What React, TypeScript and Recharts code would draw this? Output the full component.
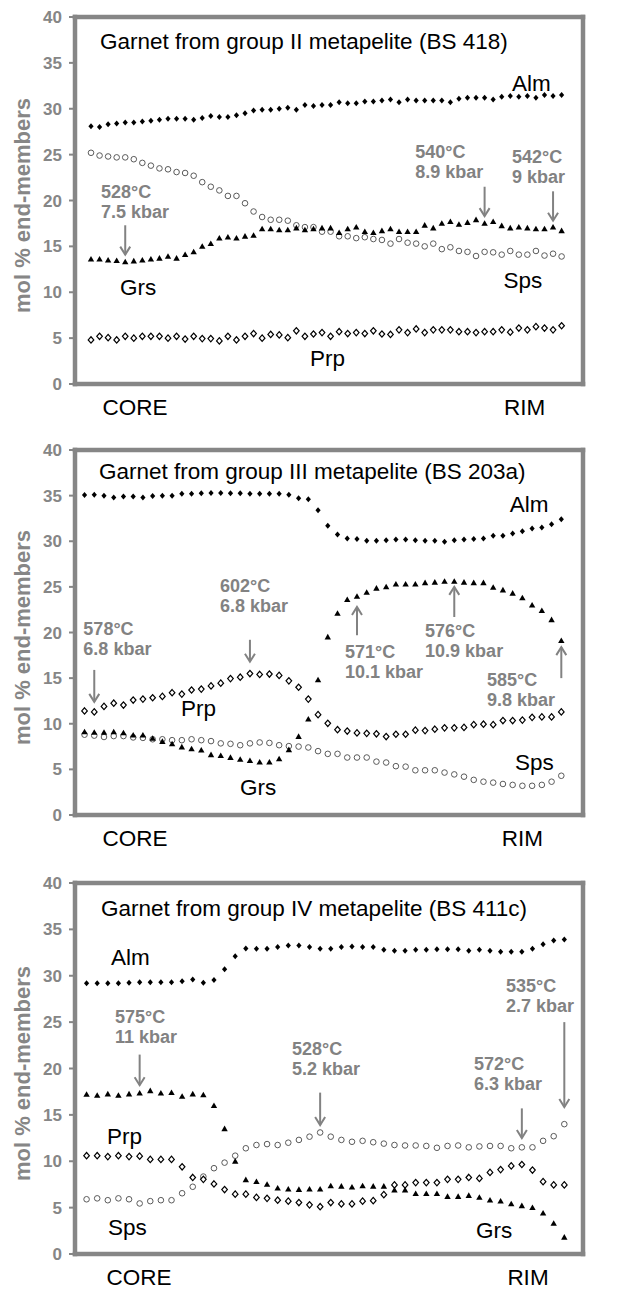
import React from "react"
import { ComposedChart, Line, XAxis, YAxis, ReferenceLine, ReferenceDot, Label } from "recharts"

const FRAME = "#868686"
const NOTE = "#828282"
const FONT = '"Liberation Sans", Arial, sans-serif'

const leftTicks = [0, 5, 10, 15, 20, 25, 30, 35, 40]
const rightTicks80 = [0, 10, 20, 30, 40, 50, 60, 70, 80]
const rightTicks90 = [0, 10, 20, 30, 40, 50, 60, 70, 80, 90]
const edgeNames = ["CORE", "RIM"]

// group II metapelite (BS 418), 56 spots core -> rim
const almII = [28.1, 28.0, 28.3, 28.4, 28.5, 28.5, 28.6, 28.7, 28.8, 28.9, 28.9, 28.9, 28.8, 29.0, 29.2, 29.1, 29.1, 29.3, 29.5, 29.8, 29.9, 29.9, 30.0, 30.1, 29.9, 30.4, 30.3, 30.4, 30.4, 30.7, 30.6, 30.6, 30.8, 30.8, 30.9, 31.0, 30.7, 31.0, 30.9, 30.9, 30.9, 30.9, 30.7, 31.1, 31.2, 31.2, 31.2, 31.0, 31.3, 31.4, 31.3, 31.4, 31.2, 31.5, 31.4, 31.5]
const spsII = [25.2, 24.9, 24.8, 24.7, 24.7, 24.5, 24.1, 23.8, 23.5, 23.4, 23.1, 23.0, 22.7, 22.0, 21.5, 21.1, 20.5, 20.5, 19.7, 18.8, 18.2, 17.9, 17.9, 17.8, 17.3, 17.1, 17.1, 16.6, 16.6, 16.1, 16.1, 15.9, 16.0, 15.8, 15.7, 15.3, 15.8, 15.4, 15.3, 15.0, 15.3, 14.7, 14.9, 14.5, 14.4, 13.95, 14.4, 14.35, 14.1, 14.5, 14.1, 14.1, 14.5, 14.0, 14.2, 13.9]
const grsII = [13.6, 13.6, 13.5, 13.45, 13.3, 13.4, 13.5, 13.6, 13.7, 13.9, 13.7, 14.1, 14.4, 15.0, 15.3, 15.9, 16.0, 15.9, 16.1, 16.2, 16.9, 16.9, 16.8, 16.8, 17.0, 16.8, 16.9, 17.0, 17.0, 16.5, 16.9, 17.1, 16.6, 16.5, 16.7, 16.9, 16.6, 16.6, 16.6, 17.3, 17.0, 17.5, 17.7, 17.4, 17.6, 17.9, 17.5, 17.7, 17.25, 17.0, 17.1, 17.0, 16.9, 16.9, 17.1, 16.7]
const prpII = [4.8, 5.2, 5.05, 4.8, 5.2, 5.0, 5.2, 5.2, 5.2, 5.0, 5.2, 4.9, 5.2, 4.95, 4.95, 4.7, 5.2, 4.8, 5.2, 5.5, 5.0, 5.4, 5.35, 5.05, 5.8, 5.2, 5.45, 5.6, 5.2, 5.7, 5.5, 5.6, 5.5, 5.8, 5.45, 5.4, 5.9, 5.6, 6.0, 5.6, 5.9, 5.9, 5.9, 5.7, 5.7, 5.6, 5.7, 5.7, 5.9, 5.65, 6.1, 5.9, 6.25, 6.1, 5.9, 6.35]

// group III metapelite (BS 203a), 50 spots
const almIII = [35.07, 35.1, 35.0, 34.8, 34.9, 34.9, 34.8, 34.95, 35.0, 35.0, 35.2, 35.2, 35.25, 35.3, 35.3, 35.25, 35.25, 35.2, 35.2, 35.2, 35.2, 35.1, 34.7, 34.6, 33.4, 31.7, 30.75, 30.3, 30.25, 30.05, 30.05, 30.1, 30.2, 30.2, 30.1, 30.05, 30.05, 29.95, 30.1, 30.2, 30.25, 30.3, 30.6, 30.6, 30.85, 31.1, 31.4, 31.5, 31.85, 32.4]
const grsIII = [9.1, 9.05, 9.05, 9.1, 9.0, 8.75, 8.75, 8.4, 8.05, 7.8, 7.45, 7.25, 7.1, 6.6, 6.5, 6.3, 6.1, 5.95, 5.8, 5.8, 6.15, 7.15, 8.6, 10.5, 14.8, 19.5, 22.1, 23.6, 23.95, 24.4, 24.85, 25.0, 25.3, 25.3, 25.3, 25.45, 25.5, 25.6, 25.6, 25.5, 25.45, 25.45, 24.95, 24.65, 24.3, 23.8, 23.0, 22.4, 21.4, 19.1]
const prpIII = [11.4, 11.3, 11.9, 12.25, 12.05, 12.6, 12.7, 12.85, 13.0, 13.4, 13.25, 13.7, 13.8, 14.15, 14.45, 14.95, 15.1, 15.5, 15.4, 15.45, 15.3, 14.7, 14.0, 12.7, 11.0, 10.05, 9.35, 9.2, 9.0, 8.95, 8.9, 8.6, 8.85, 8.85, 9.3, 9.25, 9.4, 9.55, 9.55, 9.6, 9.9, 9.95, 9.9, 10.35, 10.35, 10.4, 10.7, 10.75, 10.75, 11.3]
const spsIII = [8.8, 8.7, 8.55, 8.65, 8.65, 8.5, 8.45, 8.3, 8.3, 8.2, 8.2, 8.3, 8.2, 8.1, 7.85, 7.8, 7.65, 7.85, 7.95, 7.9, 7.65, 7.55, 7.5, 7.4, 7.0, 6.7, 6.7, 6.3, 6.3, 6.3, 5.85, 5.75, 5.35, 5.3, 4.9, 4.9, 4.9, 4.65, 4.45, 4.2, 3.85, 3.65, 3.55, 3.4, 3.3, 3.2, 3.2, 3.3, 3.65, 4.3]

// group IV metapelite (BS 411c), 46 spots
const almIV = [29.2, 29.2, 29.2, 29.2, 29.25, 29.3, 29.3, 29.3, 29.3, 29.4, 29.6, 29.25, 29.55, 30.7, 32.1, 32.95, 32.9, 32.9, 33.1, 33.25, 33.25, 33.1, 32.9, 32.9, 33.1, 33.15, 33.1, 33.1, 32.8, 32.7, 32.7, 32.8, 32.8, 32.85, 32.85, 32.85, 32.7, 32.8, 32.7, 32.6, 32.6, 32.6, 32.9, 33.4, 33.8, 33.9]
const grsIV = [17.2, 17.1, 17.25, 17.1, 17.25, 17.35, 17.6, 17.35, 17.4, 17.0, 17.25, 17.15, 16.0, 13.5, 10.0, 8.0, 7.8, 7.5, 7.1, 7.0, 6.95, 7.0, 7.0, 7.35, 7.3, 7.2, 7.35, 7.3, 7.3, 6.9, 6.9, 6.5, 6.5, 6.5, 6.2, 6.2, 6.3, 6.1, 5.8, 5.7, 5.4, 5.2, 5.0, 4.4, 3.3, 1.8]
const prpIV = [10.6, 10.6, 10.5, 10.6, 10.5, 10.55, 10.2, 10.2, 10.2, 9.4, 8.25, 8.05, 7.55, 6.95, 6.45, 6.45, 6.1, 6.0, 5.8, 5.7, 5.55, 5.3, 5.1, 5.55, 5.4, 5.4, 5.7, 5.75, 6.4, 7.45, 7.45, 7.7, 7.7, 7.7, 8.05, 8.05, 8.25, 8.15, 8.8, 9.1, 9.5, 9.65, 9.05, 7.8, 7.45, 7.45]
const spsIV = [5.9, 6.0, 5.8, 6.0, 5.9, 5.45, 5.7, 5.8, 5.8, 6.55, 7.25, 8.35, 9.25, 9.85, 10.6, 11.4, 11.75, 11.85, 11.75, 12.0, 12.3, 12.65, 13.1, 12.65, 12.3, 12.1, 12.2, 12.05, 11.9, 11.75, 11.7, 11.7, 11.65, 11.45, 11.65, 11.7, 11.5, 11.6, 11.65, 11.65, 11.4, 11.5, 11.5, 12.2, 12.7, 14.0]

type Tag = { x: number; y: number; text: string }
type Note = { x: number; y: number; lines: string[] }
type Arrow = { x: number; from: number; to: number }

// text anchors are in chart units (spot index, mol %)
const tagsII: Tag[] = [
  { x: 1.05, y: 36.5, text: "Garnet from group II metapelite (BS 418)" },
  { x: 49.2, y: 31.9, text: "Alm" },
  { x: 3.4, y: 9.7, text: "Grs" },
  { x: 48.2, y: 10.46, text: "Sps" },
  { x: 25.6, y: 1.96, text: "Prp" },
]
const notesII: Note[] = [
  { x: 1.17, y: 20.3, lines: ["528°C", "7.5 kbar"] },
  { x: 37.9, y: 24.6, lines: ["540°C", "8.9 kbar"] },
  { x: 49.2, y: 24.1, lines: ["542°C", "9 kbar"] },
]
const arrowsII: Arrow[] = [
  { x: 4, from: 17.3, to: 14.1 },
  { x: 46, from: 21.5, to: 18.3 },
  { x: 54, from: 21.0, to: 17.8 },
]

const tagsIII: Tag[] = [
  { x: 1.49, y: 36.8, text: "Garnet from group III metapelite (BS 203a)" },
  { x: 43.7, y: 33.2, text: "Alm" },
  { x: 9.92, y: 10.85, text: "Prp" },
  { x: 15.98, y: 2.19, text: "Grs" },
  { x: 44.24, y: 4.93, text: "Sps" },
]
const notesIII: Note[] = [
  { x: -0.12, y: 19.73, lines: ["578°C", "6.8 kbar"] },
  { x: 13.93, y: 24.44, lines: ["602°C", "6.8 kbar"] },
  { x: 26.77, y: 17.2, lines: ["571°C", "10.1 kbar"] },
  { x: 35.0, y: 19.5, lines: ["576°C", "10.9 kbar"] },
  { x: 41.37, y: 14.14, lines: ["585°C", "9.8 kbar"] },
]
const arrowsIII: Arrow[] = [
  { x: 1, from: 15.9, to: 12.4 },
  { x: 17, from: 19.2, to: 16.8 },
  { x: 28, from: 19.7, to: 22.8 },
  { x: 38, from: 21.7, to: 25.0 },
  { x: 49, from: 15.0, to: 18.4 },
]

const tagsIV: Tag[] = [
  { x: 1.36, y: 36.44, text: "Garnet from group IV metapelite (BS 411c)" },
  { x: 2.3, y: 31.16, text: "Alm" },
  { x: 1.92, y: 11.86, text: "Prp" },
  { x: 2.02, y: 2.05, text: "Sps" },
  { x: 36.68, y: 1.73, text: "Grs" },
]
const notesIV: Note[] = [
  { x: 2.68, y: 24.9, lines: ["575°C", "11 kbar"] },
  { x: 19.35, y: 21.46, lines: ["528°C", "5.2 kbar"] },
  { x: 36.49, y: 19.84, lines: ["572°C", "6.3 kbar"] },
  { x: 39.5, y: 28.25, lines: ["535°C", "2.7 kbar"] },
]
const arrowsIV: Arrow[] = [
  { x: 5, from: 21.5, to: 18.2 },
  { x: 22, from: 17.4, to: 13.9 },
  { x: 41, from: 15.7, to: 12.5 },
  { x: 45, from: 25.0, to: 15.85 },
]

const frameLine = { stroke: FRAME, strokeWidth: 4.5, strokeLinecap: "square" as const }
const tickFont = { fill: FRAME, fontSize: 17, fontWeight: 700, fontFamily: FONT }

const almDot = (p: any) => {
  const { cx, cy } = p
  return <path key={`alm${p.index}`} d={`M${cx} ${cy - 3}L${cx + 2.6} ${cy}L${cx} ${cy + 3}L${cx - 2.6} ${cy}Z`} fill="#000" />
}
const prpDot = (p: any) => {
  const { cx, cy } = p
  return (
    <path key={`prp${p.index}`} d={`M${cx} ${cy - 3.2}L${cx + 2.8} ${cy}L${cx} ${cy + 3.2}L${cx - 2.8} ${cy}Z`} fill="#fff" stroke="#000" strokeWidth={1.2} />
  )
}
const spsDot = (p: any) => <circle key={`sps${p.index}`} cx={p.cx} cy={p.cy} r={2.8} fill="#fff" stroke="#5a5a5a" strokeWidth={1} />
const grsDot = (p: any) => {
  const { cx, cy } = p
  return <path key={`grs${p.index}`} d={`M${cx} ${cy - 3.2}L${cx + 3.2} ${cy + 2.4}L${cx - 3.2} ${cy + 2.4}Z`} fill="#000" />
}

const EdgeTick = (p: any) => (
  <text x={p.x} y={p.y + 31} textAnchor="middle" fontSize={22.5} fill="#000" fontFamily={FONT}>
    {edgeNames[p.index]}
  </text>
)

const ArrowShape = (p: any) => {
  const { x1, y1, x2, y2 } = p
  const dir = y2 > y1 ? 1 : -1
  return (
    <g>
      <line x1={x1} y1={y1} x2={x2} y2={y2} stroke={NOTE} strokeWidth={2} />
      <polyline points={`${x2 - 5},${y2 - dir * 8} ${x2},${y2} ${x2 + 5},${y2 - dir * 8}`} fill="none" stroke={NOTE} strokeWidth={2} />
    </g>
  )
}

interface PanelProps {
  top: number
  plotH: number
  axisH: number
  alm: number[]
  prp: number[]
  sps: number[]
  grs: number[]
  xDomain: [number, number]
  edges: number[]
  rightMax: number
  rightTicks: number[]
  tags: Tag[]
  notes: Note[]
  arrows: Arrow[]
}

function GarnetPanel({ top, plotH, axisH, alm, prp, sps, grs, xDomain, edges, rightMax, rightTicks, tags, notes, arrows }: PanelProps) {
  const rows = alm.map((v, i) => ({ i, alm: v, prp: prp[i], sps: sps[i], grs: grs[i] }))
  const height = 17 + plotH + axisH

  return (
    <div style={{ position: "absolute", left: 0, top, width: 624, height }}>
      <ComposedChart width={624} height={height} data={rows} margin={{ top: 17, right: 0, bottom: 0, left: 0 }}>
        <XAxis
          dataKey="i"
          type="number"
          domain={xDomain}
          allowDataOverflow
          ticks={edges}
          interval={0}
          height={axisH}
          tickLine={false}
          tickSize={0}
          tickMargin={0}
          axisLine={frameLine}
          tick={EdgeTick}
        />
        <YAxis
          yAxisId="l"
          type="number"
          domain={[0, 40]}
          ticks={leftTicks}
          interval={0}
          width={75}
          axisLine={frameLine}
          tickLine={{ stroke: FRAME, strokeWidth: 2 }}
          tickSize={6}
          tickMargin={7}
          tick={tickFont}
        >
          <Label
            content={(p: any) => {
              const vb = p.viewBox ?? { y: 17, height: plotH }
              const cy = vb.y + vb.height / 2 + 5
              return (
                <text x={30} y={cy} transform={`rotate(-90 30 ${cy})`} textAnchor="middle" fontSize={22} fontWeight={700} fill={FRAME} fontFamily={FONT}>
                  mol % end-members
                </text>
              )
            }}
          />
        </YAxis>
        <YAxis
          yAxisId="r"
          orientation="right"
          type="number"
          domain={[0, rightMax]}
          ticks={rightTicks}
          interval={0}
          width={41}
          axisLine={frameLine}
          tickLine={{ stroke: FRAME, strokeWidth: 2 }}
          tickSize={6}
          tickMargin={6}
          tick={tickFont}
        />
        <ReferenceLine yAxisId="l" y={40} stroke={FRAME} strokeWidth={4.5} strokeLinecap="square" />

        {arrows.map((a, k) => (
          <ReferenceLine
            key={`ar${k}`}
            yAxisId="l"
            segment={[{ x: a.x, y: a.from }, { x: a.x, y: a.to }]}
            ifOverflow="visible"
            shape={ArrowShape}
          />
        ))}
        {notes.map((n, k) => (
          <ReferenceDot
            key={`nt${k}`}
            yAxisId="l"
            x={n.x}
            y={n.y}
            r={0}
            ifOverflow="visible"
            shape={(p: any) => (
              <text x={p.cx} y={p.cy} fill={NOTE} fontSize={18} fontWeight={700} fontFamily={FONT}>
                {n.lines.map((s, j) => (
                  <tspan key={j} x={p.cx} dy={j === 0 ? 0 : 20}>
                    {s}
                  </tspan>
                ))}
              </text>
            )}
          />
        ))}
        {tags.map((t, k) => (
          <ReferenceDot
            key={`tg${k}`}
            yAxisId="l"
            x={t.x}
            y={t.y}
            r={0}
            ifOverflow="visible"
            shape={(p: any) => (
              <text x={p.cx} y={p.cy} fill="#000" fontSize={22.5} fontFamily={FONT}>
                {t.text}
              </text>
            )}
          />
        ))}

        <Line yAxisId="l" dataKey="sps" stroke="none" dot={spsDot} activeDot={false} isAnimationActive={false} />
        <Line yAxisId="l" dataKey="prp" stroke="none" dot={prpDot} activeDot={false} isAnimationActive={false} />
        <Line yAxisId="l" dataKey="grs" stroke="none" dot={grsDot} activeDot={false} isAnimationActive={false} />
        <Line yAxisId="l" dataKey="alm" stroke="none" dot={almDot} activeDot={false} isAnimationActive={false} />
      </ComposedChart>
    </div>
  )
}

export default function App() {
  return (
    <div style={{ position: "absolute", left: 0, top: 0, width: 624, height: 1290, background: "#fff", fontFamily: FONT }}>
      <GarnetPanel
        top={0}
        plotH={367}
        axisH={40}
        alm={almII}
        prp={prpII}
        sps={spsII}
        grs={grsII}
        xDomain={[-1.87, 57.5]}
        edges={[5.14, 50.67]}
        rightMax={80}
        rightTicks={rightTicks80}
        tags={tagsII}
        notes={notesII}
        arrows={arrowsII}
      />
      <GarnetPanel
        top={433}
        plotH={365}
        axisH={40}
        alm={almIII}
        prp={prpIII}
        sps={spsIII}
        grs={grsIII}
        xDomain={[-0.98, 51.23]}
        edges={[5.19, 45.0]}
        rightMax={80}
        rightTicks={rightTicks80}
        tags={tagsIII}
        notes={notesIII}
        arrows={arrowsIII}
      />
      <GarnetPanel
        top={866}
        plotH={371}
        axisH={36}
        alm={almIV}
        prp={prpIV}
        sps={spsIV}
        grs={grsIV}
        xDomain={[-1.09, 46.76]}
        edges={[4.93, 41.58]}
        rightMax={90}
        rightTicks={rightTicks90}
        tags={tagsIV}
        notes={notesIV}
        arrows={arrowsIV}
      />
    </div>
  )
}
